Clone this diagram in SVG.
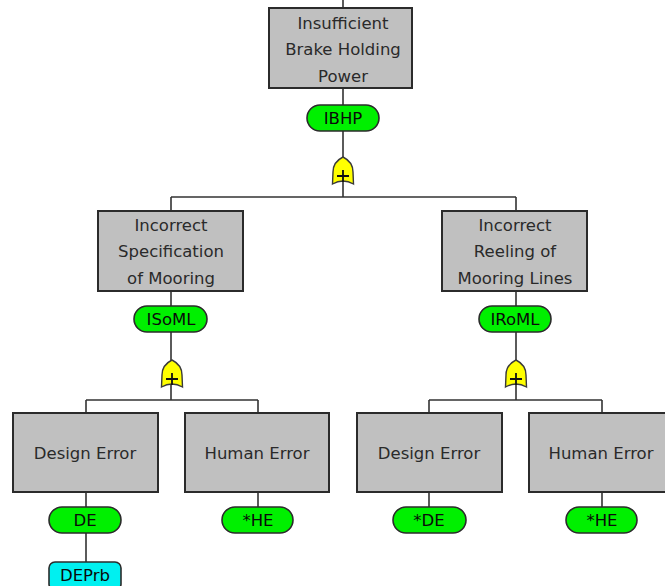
<svg xmlns="http://www.w3.org/2000/svg" width="665" height="586" viewBox="0 0 665 586">
  <defs>
    <style>
      .box { fill: #c0c0c0; stroke: #2b2b2b; stroke-width: 2; }
      .pill { fill: #00f000; stroke: #2b2b2b; stroke-width: 1.6; }
      .prb { fill: #00f0f0; stroke: #2b2b2b; stroke-width: 1.6; }
      .gate { fill: #ffff00; stroke: #3a3a3a; stroke-width: 1.4; }
      .wire { fill: none; stroke: #333333; stroke-width: 1.6; }
      .lbl { font-family: "DejaVu Sans", "Liberation Sans", sans-serif; font-size: 16.5px; fill: #2a2a2a; text-anchor: middle; }
      .tag { font-family: "DejaVu Sans", "Liberation Sans", sans-serif; font-size: 16.5px; fill: #0a0a0a; text-anchor: middle; }
    </style>
    <!-- OR gate symbol centred on x=0, top at y=0 -->
    <g id="orgate">
      <path class="gate" d="M0 0 C6 3 10 8 10 15 L10.5 27 Q0 21 -10.5 27 L-10 15 C-10 8 -6 3 0 0 Z"/>
      <path d="M-6 19 H6 M0 13 V25" stroke="#111" stroke-width="1.8" fill="none"/>
    </g>
  </defs>
  <rect width="665" height="586" fill="#ffffff"/>

  <!-- connectors -->
  <g id="connectors">
    <path class="wire" d="M343 0 V8"/>
    <path class="wire" d="M343 88 V197 M171 197 H516 M171 197 V211 M516 197 V211"/>
    <path class="wire" d="M171 291 V400 M86 400 H258 M86 400 V413 M258 400 V413"/>
    <path class="wire" d="M516 291 V400 M429 400 H602 M429 400 V413 M602 400 V413"/>
    <path class="wire" d="M86 492 V507 M86 533 V562"/>
    <path class="wire" d="M258 492 V507"/>
    <path class="wire" d="M429 492 V507"/>
    <path class="wire" d="M602 492 V507"/>
  </g>

  <!-- top event -->
  <g id="IBHP">
    <rect class="box" x="269" y="8" width="143" height="80"/>
    <text class="lbl" x="343" y="29">Insufficient</text>
    <text class="lbl" x="343" y="55">Brake Holding</text>
    <text class="lbl" x="343" y="82">Power</text>
    <rect class="pill" x="307" y="105" width="72" height="26" rx="13"/>
    <text class="tag" x="343" y="124">IBHP</text>
    <use href="#orgate" x="343" y="157"/>
  </g>

  <g id="ISoML">
    <rect class="box" x="98" y="211" width="145" height="80"/>
    <text class="lbl" x="171" y="231">Incorrect</text>
    <text class="lbl" x="171" y="257">Specification</text>
    <text class="lbl" x="171" y="284">of Mooring</text>
    <rect class="pill" x="134" y="306" width="73" height="26" rx="13"/>
    <text class="tag" x="171" y="325">ISoML</text>
    <use href="#orgate" x="172" y="360"/>
  </g>

  <g id="IRoML">
    <rect class="box" x="442" y="211" width="145" height="80"/>
    <text class="lbl" x="515" y="231">Incorrect</text>
    <text class="lbl" x="515" y="257">Reeling of</text>
    <text class="lbl" x="515" y="284">Mooring Lines</text>
    <rect class="pill" x="479" y="306" width="72" height="26" rx="13"/>
    <text class="tag" x="515" y="325">IRoML</text>
    <use href="#orgate" x="516" y="360"/>
  </g>

  <g id="DE">
    <rect class="box" x="13" y="413" width="145" height="79"/>
    <text class="lbl" x="85" y="459">Design Error</text>
    <rect class="pill" x="49" y="507" width="72" height="26" rx="13"/>
    <text class="tag" x="85" y="526">DE</text>
  </g>

  <g id="DEPrb">
    <rect class="prb" x="49" y="562" width="72" height="28" rx="6"/>
    <text class="tag" x="85" y="581">DEPrb</text>
  </g>

  <g id="HE-left">
    <rect class="box" x="185" y="413" width="144" height="79"/>
    <text class="lbl" x="257" y="459">Human Error</text>
    <rect class="pill" x="222" y="507" width="71" height="26" rx="13"/>
    <text class="tag" x="258" y="526">*HE</text>
  </g>

  <g id="DE-right">
    <rect class="box" x="357" y="413" width="145" height="79"/>
    <text class="lbl" x="429" y="459">Design Error</text>
    <rect class="pill" x="393" y="507" width="73" height="26" rx="13"/>
    <text class="tag" x="429" y="526">*DE</text>
  </g>

  <g id="HE-right">
    <rect class="box" x="529" y="413" width="145" height="79"/>
    <text class="lbl" x="601" y="459">Human Error</text>
    <rect class="pill" x="566" y="507" width="71" height="26" rx="13"/>
    <text class="tag" x="602" y="526">*HE</text>
  </g>
</svg>
